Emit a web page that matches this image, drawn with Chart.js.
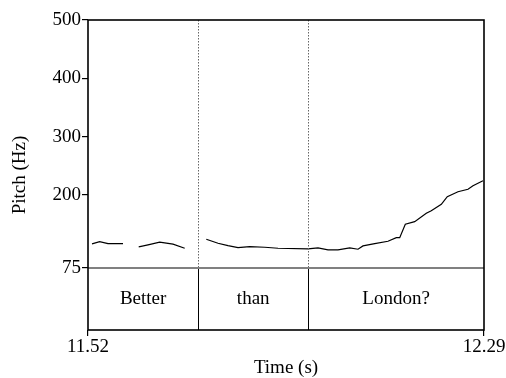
<!DOCTYPE html>
<html>
<head>
<meta charset="utf-8">
<script src="https://cdn.jsdelivr.net/npm/chart.js@4/dist/chart.umd.min.js"></script>
<style>
  html, body { margin: 0; padding: 0; background: #fff; }
  #wrap { width: 506px; height: 378px; }
</style>
</head>
<body>
<div id="wrap"><canvas id="c" width="506" height="378"></canvas></div>
<script>
// ---- data ----
const timeRange = [11.52, 12.29];
const xTickLabels = [11.52, 12.29];
const yTickValues = [75, 200, 300, 400, 500];
const pitchMin = 75;
const pitchMax = 500;

const times = [
  11.5278, 11.5427, 11.5589, 11.5881, null,
  11.6186, 11.6367, 11.6594, 11.6853, 11.7080, null,
  11.7500, 11.7728, 11.7922, 11.8117, 11.8344, 11.8636, 11.8894, 11.9478,
  11.9672, 11.9867, 12.0061, 12.0289, 12.0450, 12.0547, 12.0775, 12.1033,
  12.1195, 12.1261, 12.1370, 12.1552, 12.1778, 12.1875, 12.2070, 12.2186,
  12.2394, 12.2589, 12.2686, 12.2880
];
const pitchHz = [
  116.1, 120.0, 116.6, 116.6, null,
  111.0, 114.4, 119.0, 115.6, 108.7, null,
  124.1, 117.3, 113.2, 109.8, 111.5, 110.4, 108.7, 107.5,
  109.2, 105.8, 105.8, 109.2, 107.0, 112.7, 116.6, 120.7,
  126.9, 126.9, 149.8, 154.3, 168.6, 173.1, 184.1, 197.1,
  205.6, 209.7, 215.9, 224.5
];

const wordLabels = ["Better", "than", "London?"];
const wordBounds = [11.52, 11.7345, 11.948, 12.29];

// ---- build ----
const FONT = 'Liberation Serif, Times New Roman, serif';
const tierBottomValue = -31.5;

const points = times.map((t, i) => ({ x: t, y: pitchHz[i] }));

const tierPlugin = {
  id: 'tier',
  afterDatasetsDraw(chart) {
    const ctx = chart.ctx;
    const xs = chart.scales.x, ys = chart.scales.y;
    const area = chart.chartArea;
    const y75 = ys.getPixelForValue(pitchMin);
    const yBot = area.bottom;
    ctx.save();
    // interval boundaries
    for (let i = 1; i < wordBounds.length - 1; i++) {
      const px = Math.round(xs.getPixelForValue(wordBounds[i])) + 0.5;
      ctx.strokeStyle = '#666';
      ctx.lineWidth = 1;
      ctx.setLineDash([1.5, 1.5]);
      ctx.beginPath(); ctx.moveTo(px, area.top); ctx.lineTo(px, y75); ctx.stroke();
      ctx.setLineDash([]);
      ctx.strokeStyle = '#000';
      ctx.beginPath(); ctx.moveTo(px, y75); ctx.lineTo(px, yBot); ctx.stroke();
    }
    // 75 Hz line
    ctx.strokeStyle = '#808080';
    ctx.lineWidth = 2;
    ctx.beginPath(); ctx.moveTo(area.left, y75); ctx.lineTo(area.right, y75); ctx.stroke();
    // words
    ctx.fillStyle = '#000';
    ctx.font = '19px ' + FONT;
    ctx.textAlign = 'center';
    ctx.textBaseline = 'middle';
    const ym = (y75 + yBot) / 2;
    for (let i = 0; i < wordLabels.length; i++) {
      const cx = (xs.getPixelForValue(wordBounds[i]) + xs.getPixelForValue(wordBounds[i + 1])) / 2;
      ctx.fillText(wordLabels[i], cx, ym);
    }
    // frame
    ctx.strokeStyle = '#000';
    ctx.lineWidth = 1.6;
    ctx.strokeRect(area.left, area.top, area.right - area.left, area.bottom - area.top);
    ctx.restore();
  }
};

new Chart(document.getElementById('c'), {
  type: 'line',
  data: {
    datasets: [{
      data: points,
      borderColor: '#000',
      borderWidth: 1.2,
      pointRadius: 0,
      tension: 0,
      spanGaps: false,
      fill: false
    }]
  },
  options: {
    responsive: false,
    animation: false,
    devicePixelRatio: 1,
    layout: { padding: { top: 20, right: 22, left: 0, bottom: 0 } },
    plugins: { legend: { display: false }, tooltip: { enabled: false } },
    scales: {
      x: {
        type: 'linear',
        min: timeRange[0],
        max: timeRange[1],
        afterBuildTicks(scale) { scale.ticks = xTickLabels.map(v => ({ value: v })); },
        afterFit(scale) { scale.height = 48; },
        ticks: {
          color: '#000',
          font: { family: FONT, size: 19 },
          padding: 0,
          maxRotation: 0,
          autoSkip: false,
          callback: (v) => Number(v).toFixed(2)
        },
        grid: { drawOnChartArea: false, drawTicks: true, tickLength: 6, color: '#000', lineWidth: 1.2 },
        border: { display: false },
        title: {
          display: true, text: 'Time (s)', color: '#000',
          font: { family: FONT, size: 19, lineHeight: 1 },
          padding: { top: 0, bottom: 0 }
        }
      },
      y: {
        type: 'linear',
        min: tierBottomValue,
        max: pitchMax,
        afterBuildTicks(scale) { scale.ticks = yTickValues.map(v => ({ value: v })); },
        afterFit(scale) { scale.width = 88; },
        ticks: {
          color: '#000',
          font: { family: FONT, size: 19 },
          padding: 1,
          autoSkip: false,
          callback: (v) => String(v)
        },
        grid: { drawOnChartArea: false, drawTicks: true, tickLength: 6, color: '#000', lineWidth: 1.2 },
        border: { display: false },
        title: {
          display: true, text: 'Pitch (Hz)', color: '#000',
          font: { family: FONT, size: 19, lineHeight: 1 },
          padding: { top: 10.5, bottom: 0 }
        }
      }
    }
  },
  plugins: [tierPlugin]
});
</script>
</body>
</html>
